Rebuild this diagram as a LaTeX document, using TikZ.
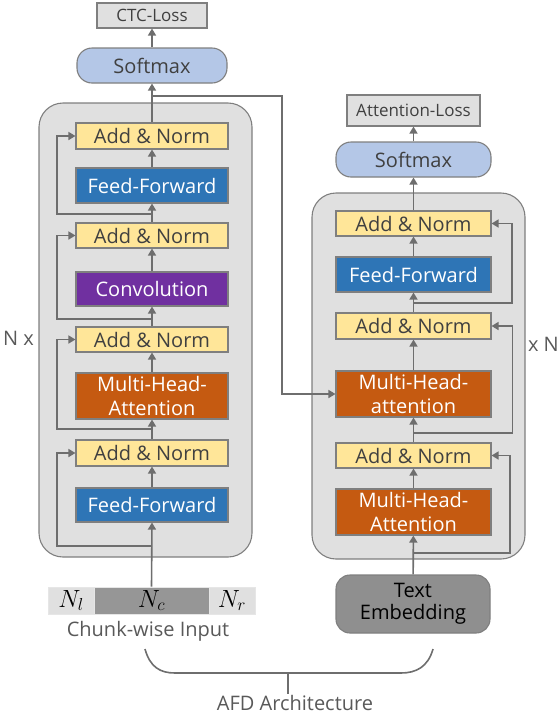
\documentclass[tikz,border=0pt]{standalone}
\usepackage{fontspec}
\setmainfont{Open Sans}
\usetikzlibrary{arrows.meta}
\definecolor{bord}{HTML}{7F7F7F}
\definecolor{arrc}{HTML}{6E6E6E}
\definecolor{ylw}{HTML}{FFE699}
\definecolor{blu}{HTML}{2E75B6}
\definecolor{pur}{HTML}{7030A0}
\definecolor{org}{HTML}{C55A11}
\definecolor{smx}{HTML}{B4C7E7}
\definecolor{lgr}{HTML}{E0E0E0}
\definecolor{txt}{HTML}{404040}
\definecolor{embc}{HTML}{8F8F8F}
\definecolor{ncell}{HTML}{969696}
\definecolor{graytxt}{HTML}{595959}
\begin{document}
\begin{tikzpicture}[x=1pt,y=-1pt,
 box/.style={draw=bord, line width=1.1pt, inner sep=0pt, align=center, font=\fontsize{20}{24}\selectfont},
 an/.style={box, fill=ylw, text=txt, minimum width=152pt, minimum height=26pt},
 ff/.style={box, fill=blu, text=white, minimum width=152pt, minimum height=35pt},
 cv/.style={box, fill=pur, text=white, minimum width=152pt, minimum height=34pt},
 mha/.style={box, fill=org, text=white, minimum width=152pt, minimum height=46pt},
 smbox/.style={box, fill=smx, text=txt, rounded corners=15pt, minimum width=150pt, minimum height=35pt},
 loss/.style={box, fill=lgr, text=txt, font=\fontsize{17}{20}\selectfont},
 cont/.style={draw=bord, fill=lgr, line width=1.1pt, rounded corners=24pt},
 arw/.style={draw=arrc, line width=1.6pt, -{Triangle[length=7pt,width=8pt]}},
 ln/.style={draw=arrc, line width=1.6pt},
 cell/.style={draw=lgr!80!white, line width=0.8pt, inner sep=0pt, minimum height=27pt, font=\fontsize{24}{26}\selectfont},
 lbl/.style={text=graytxt, inner sep=0pt, font=\fontsize{20}{24}\selectfont}
]
\useasboundingbox (0,0) rectangle (560,716);

% containers
\path[cont] (39,103) rectangle (252,557);
\path[cont] (312,193) rectangle (525,559);

% left column
\node[loss, minimum width=110pt, minimum height=25pt] (ctc) at (152,15.5) {CTC-Loss};
\node[smbox] (smL) at (152,65.5) {Softmax};
\node[an] (anL1) at (152,136) {Add \& Norm};
\node[ff] (ffL1) at (152,185.5) {Feed-Forward};
\node[an, minimum height=25pt] (anL2) at (152,235.5) {Add \& Norm};
\node[cv] (conv) at (152,289) {Convolution};
\node[an, minimum height=25pt] (anL3) at (152,339.5) {Add \& Norm};
\node[mha] (mhaL) at (152,396) {Multi-Head-\\Attention};
\node[an] (anL4) at (152,453) {Add \& Norm};
\node[ff, minimum height=34pt] (ffL2) at (152,505) {Feed-Forward};

% chunk input
\node[cell, fill=lgr, minimum width=46pt] (nl) at (71,600.5) {$N_l$};
\node[cell, fill=ncell, minimum width=115pt] (nc) at (151.5,600.5) {$N_c$};
\node[cell, fill=lgr, minimum width=46pt] (nr) at (232,600.5) {$N_r$};
\node[lbl] (chunklbl) at (148,631) {Chunk-wise Input};

% right column
\node[loss, minimum width=133pt, minimum height=31pt] (attloss) at (413.5,110.5) {Attention-Loss};
\node[smbox, minimum width=155pt] (smR) at (413.5,159.5) {Softmax};
\node[an, minimum width=155pt, minimum height=25pt] (anR1) at (413.5,223.5) {Add \& Norm};
\node[ff, minimum width=155pt] (ffR) at (413.5,274.5) {Feed-Forward};
\node[an, minimum width=155pt] (anR2) at (413.5,326) {Add \& Norm};
\node[mha, minimum width=155pt] (mhaR1) at (413.5,394) {Multi-Head-\\attention};
\node[an, minimum width=155pt, minimum height=25pt] (anR3) at (413.5,455.5) {Add \& Norm};
\node[mha, minimum width=155pt] (mhaR2) at (413.5,512) {Multi-Head-\\Attention};
\node[box, fill=embc, text=black, rounded corners=14pt, minimum width=154pt, minimum height=58pt, font=\fontsize{20}{22}\selectfont] (emb) at (413,604) {Text\\Embedding};

% side labels
\node[lbl, anchor=west] (nxL) at (3,338) {N x};
\node[lbl, anchor=east] (nxR) at (559,344) {x N};

% left arrows
\draw[arw] (nc.north) -- (ffL2.south);
\draw[arw] (ffL2) -- (anL4);
\draw[arw] (anL4) -- (mhaL);
\draw[arw] (mhaL) -- (anL3);
\draw[arw] (anL3) -- (conv);
\draw[arw] (conv) -- (anL2);
\draw[arw] (anL2) -- (ffL1);
\draw[arw] (ffL1) -- (anL1);
\draw[arw] (anL1) -- (smL);
\draw[arw] (smL) -- (ctc);

% left residual loops
\coordinate (jL1) at (152,214);
\coordinate (jL2) at (152,319);
\coordinate (jL3) at (152,429);
\coordinate (jL4) at (152,546);
\draw[arw] (jL1) -- ++(-95,0) |- (anL1.west);
\draw[arw] (jL2) -- ++(-95,0) |- (anL2.west);
\draw[arw] (jL3) -- ++(-95,0) |- (anL3.west);
\draw[arw] (jL4) -- ++(-95,0) |- (anL4.west);

% right arrows
\draw[arw] (emb) -- (mhaR2);
\draw[arw] (mhaR2) -- (anR3);
\draw[arw] (anR3) -- (mhaR1);
\draw[arw] (mhaR1) -- (anR2);
\draw[arw] (anR2) -- (ffR);
\draw[arw] (ffR) -- (anR1);
\draw[arw] (anR1) -- (smR);
\draw[arw] (smR) -- (attloss);

% right residual loops
\coordinate (jR1) at (413.5,303);
\coordinate (jR2) at (413.5,433);
\coordinate (jR3) at (413.5,553);
\draw[arw] (jR1) -- ++(98.5,0) |- (anR1.east);
\draw[arw] (jR2) -- ++(99,0) |- (anR2.east);
\draw[arw] (jR3) -- ++(96.5,0) |- (anR3.east);

% cross connection
\coordinate (jX) at (152,96);
\draw[arw] (jX) -- (282,96) |- (mhaR1.west);

% brace
\coordinate (bL) at (145,649);
\coordinate (bR) at (433,649);
\coordinate (bM) at (288,673);
\draw[ln] (bL) .. controls (150,667) and (160,673) .. (175,673) -- (401,673) .. controls (416,673) and (428,667) .. (bR);
\draw[ln] (bM) -- (288,694);
\node[lbl, anchor=base] (afd) at (295,710) {AFD Architecture};
\end{tikzpicture}
\end{document}
